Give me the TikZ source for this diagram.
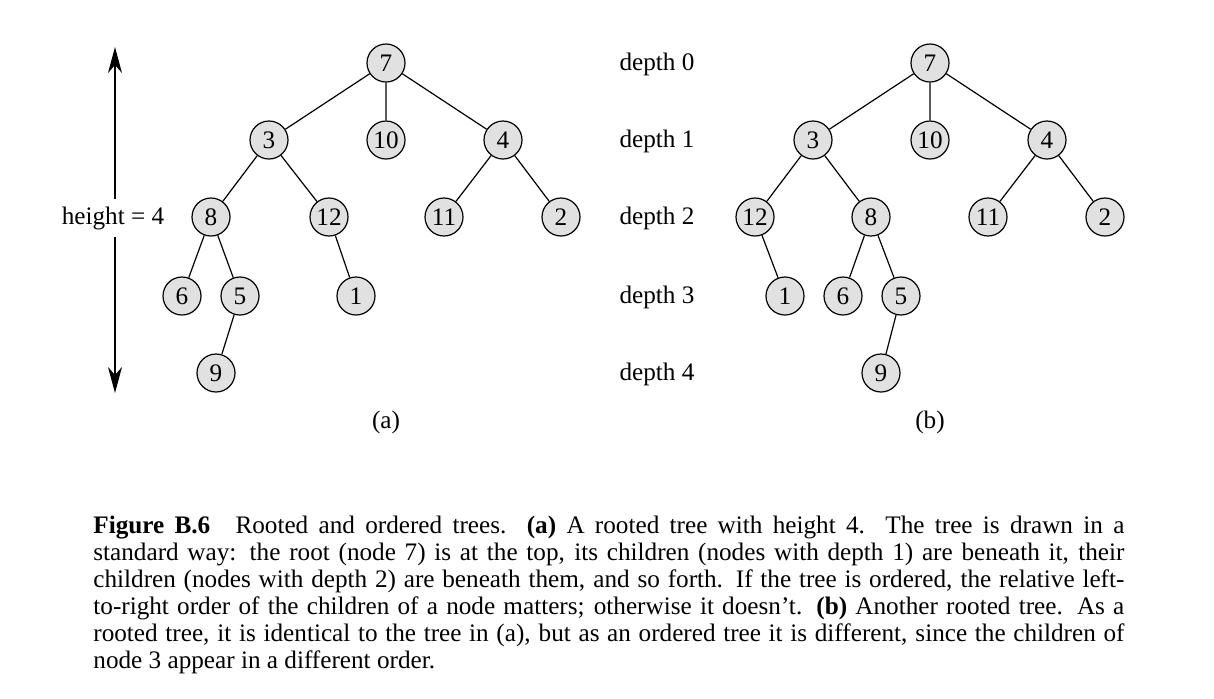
\documentclass[tikz,border=0pt]{standalone}
\usepackage{fontspec}
\setmainfont{Liberation Serif}
\usetikzlibrary{arrows.meta}
\definecolor{nodegray}{RGB}{225,225,225}
\tikzset{
  treenode/.style={circle,draw,fill=nodegray,line width=0.6pt,inner sep=0pt,minimum size=19pt},
  treeedge/.style={line width=0.6pt},
  depthlabel/.style={anchor=center}
}
\begin{document}
\begin{tikzpicture}[x=0.5pt,y=-0.5pt,font=\fontsize{12.6}{13.5}\selectfont]
\useasboundingbox (0,0) rectangle (1214,698);
% tree (a)
\node[treenode] (a7) at (386,63) {7};
\node[treenode] (a3) at (269,140) {3};
\node[treenode] (a10) at (386,140) {10};
\node[treenode] (a4) at (503,140) {4};
\node[treenode] (a8) at (211,217) {8};
\node[treenode] (a12) at (329,217) {12};
\node[treenode] (a11) at (444,217) {11};
\node[treenode] (a2) at (561,217) {2};
\node[treenode] (a6) at (182,296) {6};
\node[treenode] (a5) at (240,296) {5};
\node[treenode] (a1) at (356,296) {1};
\node[treenode] (a9) at (216,373) {9};
\draw[treeedge] (a7) -- (a3) (a7) -- (a10) (a7) -- (a4);
\draw[treeedge] (a3) -- (a8) (a3) -- (a12) (a4) -- (a11) (a4) -- (a2);
\draw[treeedge] (a8) -- (a6) (a8) -- (a5) (a12) -- (a1) (a5) -- (a9);
% height arrow
\node (height) at (113,218) {height = 4};
\coordinate (htop) at (115,47);
\coordinate (hbot) at (115,393);
\draw[treeedge,-{Stealth[length=13pt,width=7pt,inset=4pt]}] (height.north -| htop) -- (htop);
\draw[treeedge,-{Stealth[length=13pt,width=7pt,inset=4pt]}] (height.south -| hbot) -- (hbot);
% depth labels
\foreach \d/\y in {0/64,1/141,2/218,3/297,4/374}
  \node[depthlabel] (depth\d) at (657,\y) {depth \d};
% tree (b)
\node[treenode] (b7) at (930,63) {7};
\node[treenode] (b3) at (813,140) {3};
\node[treenode] (b10) at (930,140) {10};
\node[treenode] (b4) at (1047,140) {4};
\node[treenode] (b12) at (755,217) {12};
\node[treenode] (b8) at (871,217) {8};
\node[treenode] (b11) at (988,217) {11};
\node[treenode] (b2) at (1105,217) {2};
\node[treenode] (b1) at (785,296) {1};
\node[treenode] (b6) at (843,296) {6};
\node[treenode] (b5) at (901,296) {5};
\node[treenode] (b9) at (881,373) {9};
\draw[treeedge] (b7) -- (b3) (b7) -- (b10) (b7) -- (b4);
\draw[treeedge] (b3) -- (b12) (b3) -- (b8) (b4) -- (b11) (b4) -- (b2);
\draw[treeedge] (b12) -- (b1) (b8) -- (b6) (b8) -- (b5) (b5) -- (b9);
% sub labels
\node (laba) at (386,422) {(a)};
\node (labb) at (930,422) {(b)};
% caption
\node[anchor=north west,inner sep=0pt,text width=515.5pt,align=justify] (caption) at (93,516)
{\textbf{Figure B.6}\quad Rooted and ordered trees. \textbf{(a)} A rooted tree with height 4. The tree is drawn in a\linebreak
standard way: the root (node 7) is at the top, its children (nodes with depth 1) are beneath it, their\linebreak
children (nodes with depth 2) are beneath them, and so forth. If the tree is ordered, the relative left-\linebreak
to-right order of the children of a node matters; otherwise it doesn't. \textbf{(b)} Another rooted tree. As a\linebreak
rooted tree, it is identical to the tree in (a), but as an ordered tree it is different, since the children of\linebreak
node 3 appear in a different order.};
\end{tikzpicture}
\end{document}
